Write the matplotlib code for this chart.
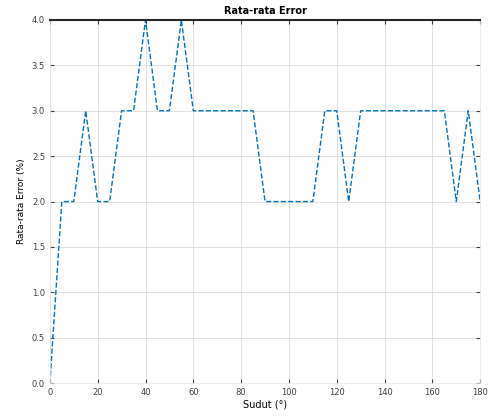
import matplotlib
matplotlib.use('Agg')
import matplotlib.pyplot as plt

# sudut (derajat) dan rata-rata error
sudut = [0, 5, 10, 15, 20, 25, 30, 35, 40, 45, 50, 55, 60, 65, 70, 75, 80, 85, 90,
         95, 100, 105, 110, 115, 120, 125, 130, 135, 140, 145, 150, 155, 160, 165,
         170, 175, 180]
error = [0, 2, 2, 3, 2, 2, 3, 3, 4, 3, 3, 4, 3, 3, 3, 3, 3, 3, 2,
         2, 2, 2, 2, 3, 3, 2, 3, 3, 3, 3, 3, 3, 3, 3,
         2, 3, 2]
xticks = [0, 20, 40, 60, 80, 100, 120, 140, 160, 180]
yticks = [0, 0.5, 1, 1.5, 2, 2.5, 3, 3.5, 4]

fig = plt.figure(figsize=(4.89, 4.16), dpi=100)
ax = fig.add_axes([0.102, 0.079, 0.880, 0.873])

ax.plot(sudut, error, '--', color='#0072BD', linewidth=1.0)

ax.set_xlim(0, 180)
ax.set_ylim(0, 4)
ax.set_xticks(xticks)
ax.set_yticks(yticks)
ax.grid(True, color='#dcdcdc', linewidth=0.6)
ax.set_axisbelow(True)

ax.tick_params(direction='in', length=3, width=0.8, labelsize=6,
               top=True, right=True, colors='#404040')
for s in ['left', 'right', 'bottom']:
    ax.spines[s].set_color('#e6e6e6')
    ax.spines[s].set_linewidth(0.5)
ax.spines['top'].set_color('#262626')
ax.spines['top'].set_linewidth(1.5)

ax.set_title('Rata-rata Error', fontsize=7, fontweight='bold', pad=4)
ax.set_xlabel('Sudut (°)', fontsize=7, labelpad=2)
ax.set_ylabel('Rata-rata Error (%)', fontsize=6.5, labelpad=4)

fig.savefig('out.png', dpi=100)
